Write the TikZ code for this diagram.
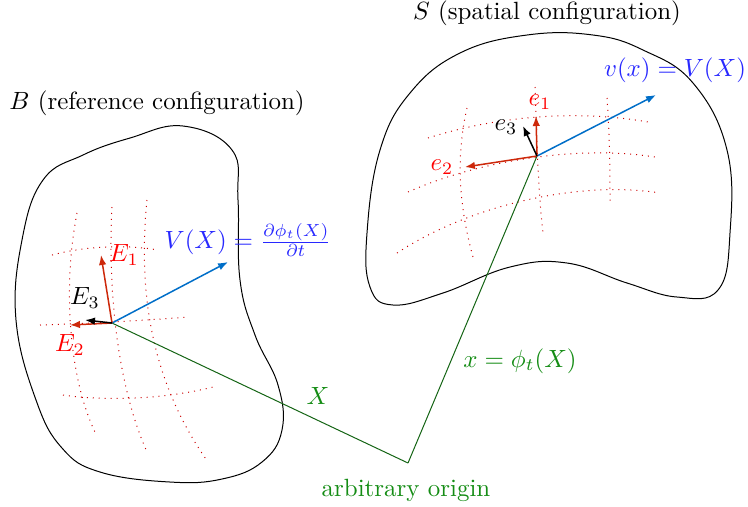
\documentclass[tikz,border=0pt]{standalone}
\usepackage{tikz}
\usetikzlibrary{positioning,arrows.meta}
\usepackage{amsmath}
\usepackage{xcolor}
\definecolor{vecblue}{RGB}{0,110,200}
\definecolor{txtblue}{RGB}{40,40,255}
\definecolor{basered}{RGB}{205,40,10}
\definecolor{txtgreen}{RGB}{20,140,20}
\definecolor{linegreen}{RGB}{20,100,20}
\tikzset{
  body/.style={draw=black, thin},
  gridline/.style={red!80!black, dotted, thin},
  basevec/.style={-{Latex[length=4pt,width=3pt]}, basered, semithick},
  thirdvec/.style={-{Latex[length=4pt,width=3pt]}, black, semithick},
  velvec/.style={-{Latex[length=4pt,width=3pt]}, vecblue, semithick},
  posline/.style={linegreen, thin}
}

\begin{document}
\begin{tikzpicture}[x=0.0141cm, y=-0.0141cm]
  \useasboundingbox (0,0) rectangle (748,506);

  % bodies
  \draw[body] plot[smooth cycle, tension=0.7] coordinates {(183,126) (232,150) (238,200) (240,280) (255,335) (278,385) (282,430) (262,462) (222,479) (170,482) (100,472) (62,448) (36,400) (16,320) (22,240) (43,180) (83,155) (130,138)};
  \draw[body] plot[smooth cycle, tension=0.7] coordinates {(527,35) (593,35) (643,50) (693,83) (727,150) (730,233) (718,290) (677,297) (627,283) (567,263) (510,267) (443,293) (393,305) (370,287) (367,233) (380,150) (410,93) (460,53)};

  % material grid
  \draw[gridline] (77,213) .. controls (62,290) and (70,380) .. (95,432);
  \draw[gridline] (112,207) .. controls (108,280) and (115,380) .. (147,452);
  \draw[gridline] (147,200) .. controls (138,290) and (150,380) .. (208,462);
  \draw[gridline] (52,255) .. controls (90,245) and (130,245) .. (158,250);
  \draw[gridline] (40,325) .. controls (100,323) and (150,320) .. (188,317);
  \draw[gridline] (63,395) .. controls (110,402) and (170,398) .. (213,387);

  % spatial grid
  \draw[gridline] (467,108) .. controls (455,160) and (460,210) .. (473,257);
  \draw[gridline] (535,87) .. controls (537,140) and (538,190) .. (543,233);
  \draw[gridline] (607,98) .. controls (610,140) and (610,175) .. (610,203);
  \draw[gridline] (428,138) .. controls (500,115) and (580,110) .. (648,122);
  \draw[gridline] (408,192) .. controls (480,160) and (580,145) .. (655,157);
  \draw[gridline] (397,253) .. controls (470,205) and (580,180) .. (660,193);

  \coordinate (orig) at (408,463);
  \coordinate (OB) at (112,323);
  \coordinate (OS) at (537,156);
  \coordinate (E1tip) at (101,255);
  \coordinate (E2tip) at (70,325);
  \coordinate (E3tip) at (85,320);
  \coordinate (Vtip) at (228,262);
  \coordinate (e1tip) at (536,116);
  \coordinate (e2tip) at (465,167);
  \coordinate (e3tip) at (523,126);
  \coordinate (vtip) at (656,95);

  % position vectors
  \draw[posline] (orig) -- (OB);
  \draw[posline] (orig) -- (OS);

  % bases and velocities
  \draw[velvec] (OB) -- (Vtip);
  \draw[basevec] (OB) -- (E1tip);
  \draw[basevec] (OB) -- (E2tip);
  \draw[thirdvec] (OB) -- (E3tip);
  \draw[velvec] (OS) -- (vtip);
  \draw[basevec] (OS) -- (e1tip);
  \draw[basevec] (OS) -- (e2tip);
  \draw[thirdvec] (OS) -- (e3tip);

  % labels
  \node (Blabel) at (157,103) {$B$ (reference configuration)};
  \node (Slabel) at (547,13) {$S$ (spatial configuration)};
  \node[text=txtblue] (vlabel) at (675,70) {$v(x) = V(X)$};
  \node[text=red] (e1label) at (540,102) {$e_1$};
  \node (e3label) at (506,127) {$e_3$};
  \node[text=red] (e2label) at (442,167) {$e_2$};
  \node[text=txtblue] (Vlabel) at (248,240) {$V(X) = \frac{\partial\phi_t(X)}{\partial t}$};
  \node[text=red] (E1label) at (124,255) {$E_1$};
  \node (E3label) at (85,298) {$E_3$};
  \node[text=red] (E2label) at (70,345) {$E_2$};
  \node[text=txtgreen] (Xlabel) at (318,396) {$X$};
  \node[text=txtgreen] (xlabel) at (520,361) {$x = \phi_t(X)$};
  \node[text=txtgreen] (origlabel) at (406,490) {arbitrary origin};

\end{tikzpicture}
\end{document}
